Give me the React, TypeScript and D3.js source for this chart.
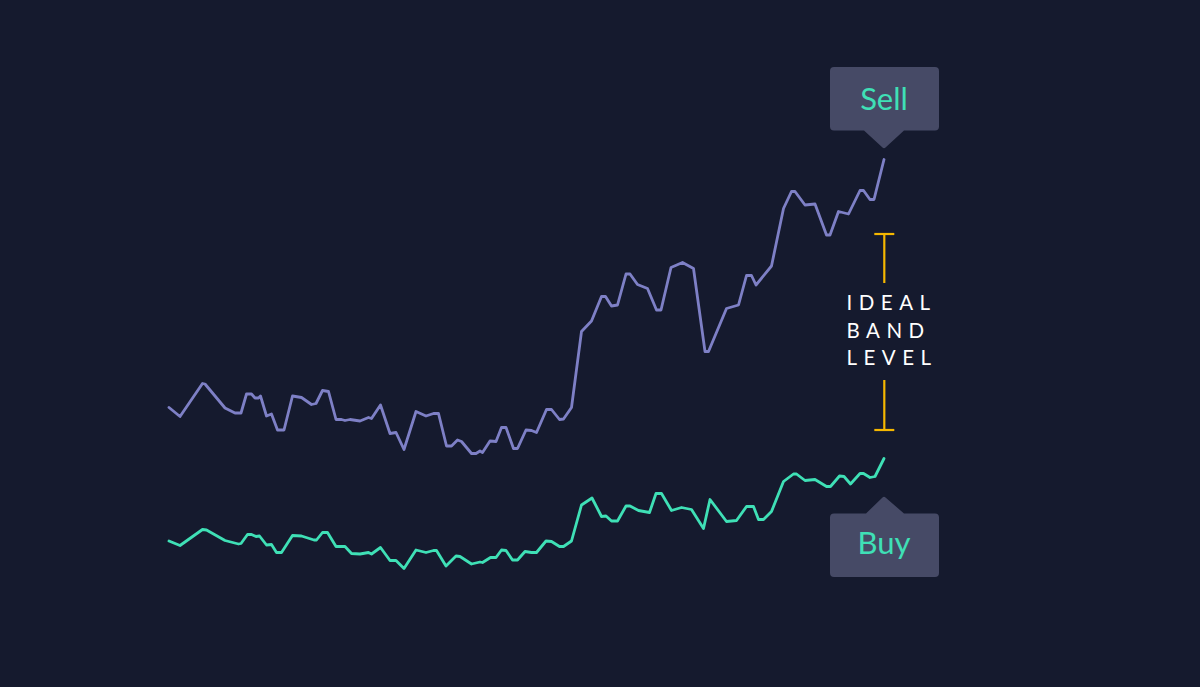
import React from "react";
import * as d3 from "d3";

// x: time index, y: price level
const sellX = [0, 2.2, 6.7, 7.2, 11.2, 13.2, 14.4, 15.5, 16.5, 17.2, 17.9, 18.3, 19.5, 20.5, 21.7, 23, 24.7, 26.5, 28.5, 29.4, 30.7, 31.9, 33.4, 34.5, 35.2, 36.2, 38.2, 39.9, 40.5, 42.3, 44.2, 45.4, 47, 49.4, 51.4, 52.9, 53.9, 55.5, 56.5, 57.7, 58.5, 60.5, 61.4, 62.2, 62.7, 64.2, 65.4, 66.5, 67.4, 68.9, 69.7, 71.4, 72.5, 73.5, 75.5, 76.5, 78.1, 78.9, 80.5, 82.5, 84.5, 86.5, 87.3, 88.5, 89.7, 91.4, 92.2, 93.7, 95.7, 97.5, 98.4, 100.4, 102.7, 104.9, 107.2, 107.9, 111.5, 113.9, 115.5, 116.5, 117.4, 120.5, 122.9, 124.5, 125.2, 127.2, 129.2, 131.5, 132.2, 133.9, 135.9, 138.2, 138.9, 140.2, 141, 143];
const sellY = [38.5, 36.7, 43.3, 43.2, 38.4, 37.4, 37.4, 41.2, 41.2, 40.4, 40.4, 40.8, 36.8, 37.2, 34, 34, 40.8, 40.5, 39.1, 39.3, 41.9, 41.7, 36.1, 36.1, 35.9, 36.1, 35.8, 36.5, 36.3, 39, 33.3, 33.5, 30.1, 37.7, 36.8, 37.3, 37.3, 30.8, 30.8, 32, 31.7, 29.3, 29.3, 29.8, 29.5, 31.8, 31.7, 34.5, 34.5, 30.3, 30.3, 34, 33.9, 33.5, 38.1, 38.1, 36.1, 36.2, 38.5, 53.7, 55.8, 60.7, 60.7, 58.8, 59, 65.2, 65.2, 63.1, 62.3, 58, 58, 66.5, 67.5, 66.3, 49.7, 49.7, 58.3, 59, 64.9, 64.9, 63, 66.8, 78.3, 81.7, 81.7, 79, 79.2, 73, 73, 77.7, 77.2, 81.9, 81.9, 80.1, 80.1, 88.1];

const buyX = [0, 2.2, 6.7, 7.5, 11.2, 13.9, 14.4, 15.7, 16.5, 17.4, 18.1, 19.5, 20.5, 21.5, 22.5, 24.7, 26.5, 29, 29.5, 30.7, 31.7, 33.4, 35.2, 36.5, 38.2, 39.9, 40.5, 42.3, 44.2, 45.4, 47, 49.4, 51.4, 52.9, 53.5, 55.4, 57.4, 58.2, 60.5, 62.2, 62.7, 64.3, 65.4, 66.5, 67.4, 68.7, 69.7, 71.2, 72.5, 73.5, 75.4, 76.5, 78.1, 78.9, 80.5, 82.5, 84.6, 86.5, 87.4, 88.5, 89.7, 91.4, 92.2, 93.9, 96.1, 97.4, 98.5, 100.5, 102.5, 104.5, 106.9, 108.2, 111.5, 113.5, 115.5, 116.9, 117.9, 118.9, 120.5, 122.9, 124.9, 125.5, 127.2, 129.2, 131.5, 132.3, 134.1, 135, 136.3, 138.2, 138.9, 140.2, 141.2, 143];
const buyY = [11.8, 10.9, 14.1, 14, 11.9, 11.2, 11.3, 13.1, 13.1, 12.7, 12.8, 11, 11.1, 9.5, 9.5, 12.9, 12.8, 12, 12, 13.5, 13.5, 10.7, 10.7, 9.3, 9.2, 9.5, 9.2, 10.5, 7.9, 7.9, 6.3, 10, 9.5, 9.9, 9.9, 6.8, 8.8, 8.7, 7.2, 7.6, 7.5, 8.5, 8.5, 10, 9.9, 8, 8, 9.7, 9.5, 9.5, 11.8, 11.7, 10.7, 10.7, 11.8, 19, 20.4, 16.7, 16.8, 15.8, 15.8, 18.8, 18.8, 17.9, 17.5, 21.3, 21.3, 17.9, 18.5, 18.1, 14.3, 20.1, 15.7, 15.9, 18.7, 18.7, 16.1, 16.1, 17.7, 23.7, 25.2, 25.2, 23.9, 24.1, 22.7, 22.7, 24.8, 24.7, 23.2, 25.3, 25.3, 24.5, 24.7, 28.3];

const seriesLabels = ["Sell", "Buy"];
const bandLabel = ["IDEAL", "BAND", "LEVEL"];
const bandLevels = [73.2, 34]; // top and bottom of the ideal band

const W = 1200;
const H = 687;
const BG = "#151a2e";
const PURPLE = "#7e80c6";
const GREEN = "#3fe0b6";
const BOX = "#464a66";
const GOLD = "#f5b700";

export default function App() {
  const x = d3.scaleLinear().domain([0, 143]).range([169, 884]);
  const y = d3.scaleLinear().domain([0, 100]).range([600, 100]);
  const line = d3
    .line<[number, number]>()
    .x((d) => x(d[0]))
    .y((d) => y(d[1]))
    .curve(d3.curveLinear);

  const sell: [number, number][] = sellX.map((v, i) => [v, sellY[i]]);
  const buy: [number, number][] = buyX.map((v, i) => [v, buyY[i]]);

  const endX = x(143);
  const sellEndY = y(sellY[sellY.length - 1]);
  const buyEndY = y(buyY[buyY.length - 1]);

  const bw = 109;
  const sTip = sellEndY - 11;
  const sBottom = sTip - 18;
  const sTop = sBottom - 63.5;
  const bl = endX - 54;
  const sellPath = `M${bl + 4},${sTop} H${bl + bw - 4} Q${bl + bw},${sTop} ${bl + bw},${sTop + 4} V${sBottom - 4} Q${bl + bw},${sBottom} ${bl + bw - 4},${sBottom} H${endX + 20} L${endX + 1.5},${sTip - 1} Q${endX},${sTip + 0.5} ${endX - 1.5},${sTip - 1} L${endX - 20},${sBottom} H${bl + 4} Q${bl},${sBottom} ${bl},${sBottom - 4} V${sTop + 4} Q${bl},${sTop} ${bl + 4},${sTop} Z`;

  const bTip = buyEndY + 38;
  const bTop = bTip + 17;
  const bBottom = bTop + 63.5;
  const buyPath = `M${bl + 4},${bTop} H${endX - 18} L${endX - 1.5},${bTip + 1} Q${endX},${bTip - 0.5} ${endX + 1.5},${bTip + 1} L${endX + 20},${bTop} H${bl + bw - 4} Q${bl + bw},${bTop} ${bl + bw},${bTop + 4} V${bBottom - 4} Q${bl + bw},${bBottom} ${bl + bw - 4},${bBottom} H${bl + 4} Q${bl},${bBottom} ${bl},${bBottom - 4} V${bTop + 4} Q${bl},${bTop} ${bl + 4},${bTop} Z`;

  const bandTop = y(bandLevels[0]);
  const bandBottom = y(bandLevels[1]);
  const bx = 884.3;

  return (
    <svg
      width={W}
      height={H}
      style={{ position: "fixed", left: 0, top: 0, display: "block" }}
    >
      <rect width={W} height={H} fill={BG} />
      <path d={line(sell) ?? ""} fill="none" stroke={PURPLE} strokeWidth={2.8} strokeLinejoin="round" strokeLinecap="round" />
      <path d={line(buy) ?? ""} fill="none" stroke={GREEN} strokeWidth={2.8} strokeLinejoin="round" strokeLinecap="round" />

      <path d={sellPath} fill={BOX} />
      <text x={endX} y={sBottom - 21} textAnchor="middle" fill={GREEN} fontFamily="Lato, 'Open Sans', sans-serif" fontSize={31}>
        {seriesLabels[0]}
      </text>

      <path d={buyPath} fill={BOX} />
      <text x={endX} y={bBottom - 23.5} textAnchor="middle" fill={GREEN} fontFamily="Lato, 'Open Sans', sans-serif" fontSize={31}>
        {seriesLabels[1]}
      </text>

      <g stroke={GOLD} strokeWidth={2.2} fill="none">
        <line x1={bx - 10} x2={bx + 10} y1={bandTop} y2={bandTop} />
        <line x1={bx} x2={bx} y1={bandTop} y2={bandTop + 49} />
        <line x1={bx} x2={bx} y1={bandBottom - 50} y2={bandBottom} />
        <line x1={bx - 10} x2={bx + 10} y1={bandBottom} y2={bandBottom} />
      </g>
      {bandLabel.map((t, i) => (
        <text
          key={t}
          x={846.5}
          y={310 + i * 27.5}
          fill="#ffffff"
          fontFamily="Lato, 'Open Sans', sans-serif"
          fontSize={20.5}
          letterSpacing={6.5}
        >
          {t}
        </text>
      ))}
    </svg>
  );
}
